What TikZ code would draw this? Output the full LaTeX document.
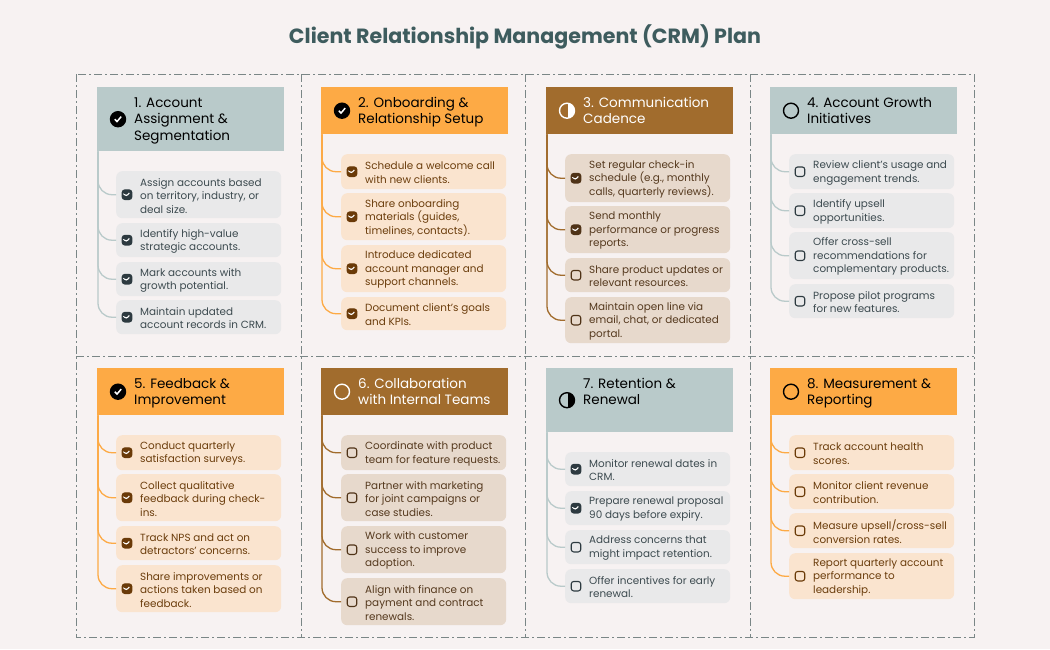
\documentclass[tikz,border=0pt]{standalone}
\usepackage{fontspec}
\setmainfont{Poppins}
\definecolor{pagebg}{HTML}{F7F2F2}
\definecolor{titlecol}{HTML}{3E5C5E}
\definecolor{gridcol}{HTML}{7A8686}
\tikzset{
	crmgray/.code={\definecolor{hdfill}{HTML}{B9CACA}\definecolor{itfill}{HTML}{E9E9EA}\definecolor{ittext}{HTML}{3C4A4F}\definecolor{ckcol}{HTML}{2D3A40}\definecolor{hdtext}{HTML}{000000}},
	crmorange/.code={\definecolor{hdfill}{HTML}{FDAA45}\definecolor{itfill}{HTML}{FAE4CF}\definecolor{ittext}{HTML}{6B3D0C}\definecolor{ckcol}{HTML}{6A3A08}\definecolor{hdtext}{HTML}{000000}},
	crmbrown/.code={\definecolor{hdfill}{HTML}{A16C2D}\definecolor{itfill}{HTML}{E7D9CC}\definecolor{ittext}{HTML}{55391E}\definecolor{ckcol}{HTML}{4F3317}\definecolor{hdtext}{HTML}{FFFFFF}},
	hdbox/.style={fill=hdfill,anchor=north west,minimum width=187pt,inner sep=0pt},
	hdlabel/.style={anchor=north west,align=left,inner sep=0pt,text=hdtext,font=\fontsize{13.5}{16.5}\selectfont},
	itbox/.style={fill=itfill,rounded corners=6pt,anchor=north west,minimum width=165pt,inner sep=0pt},
	itlabel/.style={anchor=west,align=left,inner sep=0pt,text=ittext,font=\fontsize{10.4}{13.5}\selectfont},
	branch/.style={draw=hdfill,line width=1.3pt,rounded corners=14pt},
	gridline/.style={gridcol,line width=0.9pt,dash pattern=on 8pt off 3pt on 2pt off 3pt},
	% Symbole im Kopf
	hdicon/.style={circle,draw=hdtext,line width=1.4pt,minimum size=15pt,inner sep=0pt},
	hddone/.style={hdicon,draw=black,fill=black,path picture={\draw[white,line width=1.5pt]
		([shift={(-3.2pt,0pt)}]path picture bounding box.center) -- ++(2.2,2.4) -- ++(4.2,-5);}},
	hdhalf/.style={hdicon,path picture={\fill[hdtext] ([xshift=0.6pt]path picture bounding box.north) rectangle (path picture bounding box.south east);}},
	hdopen/.style={hdicon},
	% Kaestchen in den Feldern
	itcheck/.style={rectangle,rounded corners=2.5pt,draw=ckcol,line width=1.1pt,minimum size=9.5pt,inner sep=0pt},
	itdone/.style={itcheck,fill=ckcol,path picture={\draw[white,line width=1.1pt]
		([shift={(-2.4pt,0pt)}]path picture bounding box.center) -- ++(1.7,1.8) -- ++(3,-3.6);}},
	itopen/.style={itcheck},
}
% Kopf: Nummer, x, y, Hoehe, Symbol, Text
\newcommand{\crmhead}[6]{
	\node[hdbox,minimum height=#4pt] (hd#1) at (#2,#3) {};
	\node[hd#5] (ic#1) at ([xshift=21pt]hd#1.west) {};
	\node[hdlabel] (lb#1) at ([shift={(37pt,-8pt)}]hd#1.north west) {\rule{0pt}{12pt}#6};
}
% Feld: Kopfnummer, Zeichen, x, y, Hoehe, Kaestchen, Text
\newcommand{\crmitem}[7]{
	\node[itbox,minimum height=#5pt] (it#1#2) at (#3,#4) {};
	\node[it#6] (ck#1#2) at ([xshift=11pt]it#1#2.west) {};
	\node[itlabel] (tx#1#2) at ([shift={(24pt,-1pt)}]it#1#2.west) {#7};
	\draw[branch] ([xshift=1pt]hd#1.south west) |- (it#1#2.west);
}
\begin{document}
\begin{tikzpicture}[x=1pt,y=-1pt]
	\path[use as bounding box,fill=pagebg] (0,0) rectangle (1050,649);
	
	% Titel
	\node[text=titlecol,inner sep=0pt,font=\fontsize{20.6}{25}\selectfont\bfseries] (title) at (525,37) {Client Relationship Management (CRM) Plan};
	
	% Gitter
	\draw[gridline] (76,74) rectangle (974,637);
	\foreach \x in {301,525,750} {
		\draw[gridline] (\x,74) -- (\x,637);
	}
	\draw[gridline] (76,356) -- (974,356);
	
	% Feld 1
	\begin{scope}[crmgray]
		\crmhead{1}{97}{87}{64}{done}{1. Account\\Assignment \&\\Segmentation}
		\crmitem{1}{a}{116}{171}{47}{done}{Assign accounts based\\on territory, industry, or\\deal size.}
		\crmitem{1}{b}{116}{223}{34}{done}{Identify high-value\\strategic accounts.}
		\crmitem{1}{c}{116}{262}{34}{done}{Mark accounts with\\growth potential.}
		\crmitem{1}{d}{116}{300}{34}{done}{Maintain updated\\account records in CRM.}
	\end{scope}
	
	% Feld 2
	\begin{scope}[crmorange]
		\crmhead{2}{321}{87}{47}{done}{2. Onboarding \&\\Relationship Setup}
		\crmitem{2}{a}{341}{154}{35}{done}{Schedule a welcome call\\with new clients.}
		\crmitem{2}{b}{341}{193}{47}{done}{Share onboarding\\materials (guides,\\timelines, contacts).}
		\crmitem{2}{c}{341}{245}{47}{done}{Introduce dedicated\\account manager and\\support channels.}
		\crmitem{2}{d}{341}{297}{33}{done}{Document client’s goals\\and KPIs.}
	\end{scope}
	
	% Feld 3
	\begin{scope}[crmbrown]
		\crmhead{3}{546}{87}{47}{half}{3. Communication\\Cadence}
		\crmitem{3}{a}{565}{154}{48}{done}{Set regular check-in\\schedule (e.g., monthly\\calls, quarterly reviews).}
		\crmitem{3}{b}{565}{206}{47}{done}{Send monthly\\performance or progress\\reports.}
		\crmitem{3}{c}{565}{258}{34}{open}{Share product updates or\\relevant resources.}
		\crmitem{3}{d}{565}{297}{46}{open}{Maintain open line via\\email, chat, or dedicated\\portal.}
	\end{scope}
	
	% Feld 4
	\begin{scope}[crmgray]
		\crmhead{4}{770}{87}{47}{open}{4. Account Growth\\Initiatives}
		\crmitem{4}{a}{789}{154}{35}{open}{Review client’s usage and\\engagement trends.}
		\crmitem{4}{b}{789}{193}{35}{open}{Identify upsell\\opportunities.}
		\crmitem{4}{c}{789}{232}{47}{open}{Offer cross-sell\\recommendations for\\complementary products.}
		\crmitem{4}{d}{789}{284}{34}{open}{Propose pilot programs\\for new features.}
	\end{scope}
	
	% Feld 5
	\begin{scope}[crmorange]
		\crmhead{5}{97}{368}{47}{done}{5. Feedback \&\\Improvement}
		\crmitem{5}{a}{116}{435}{35}{done}{Conduct quarterly\\satisfaction surveys.}
		\crmitem{5}{b}{116}{474}{47}{done}{Collect qualitative\\feedback during check-\\ins.}
		\crmitem{5}{c}{116}{526}{34}{done}{Track NPS and act on\\detractors’ concerns.}
		\crmitem{5}{d}{116}{565}{47}{done}{Share improvements or\\actions taken based on\\feedback.}
	\end{scope}
	
	% Feld 6
	\begin{scope}[crmbrown]
		\crmhead{6}{321}{368}{47}{open}{6. Collaboration\\with Internal Teams}
		\crmitem{6}{a}{341}{435}{35}{open}{Coordinate with product\\team for feature requests.}
		\crmitem{6}{b}{341}{474}{47}{open}{Partner with marketing\\for joint campaigns or\\case studies.}
		\crmitem{6}{c}{341}{526}{47}{open}{Work with customer\\success to improve\\adoption.}
		\crmitem{6}{d}{341}{578}{47}{open}{Align with finance on\\payment and contract\\renewals.}
	\end{scope}
	
	% Feld 7
	\begin{scope}[crmgray]
		\crmhead{7}{546}{368}{64}{half}{7. Retention \&\\Renewal}
		\crmitem{7}{a}{565}{452}{34}{done}{Monitor renewal dates in\\CRM.}
		\crmitem{7}{b}{565}{491}{34}{done}{Prepare renewal proposal\\90 days before expiry.}
		\crmitem{7}{c}{565}{530}{34}{open}{Address concerns that\\might impact retention.}
		\crmitem{7}{d}{565}{569}{34}{open}{Offer incentives for early\\renewal.}
	\end{scope}
	
	% Feld 8
	\begin{scope}[crmorange]
		\crmhead{8}{770}{368}{47}{open}{8. Measurement \&\\Reporting}
		\crmitem{8}{a}{789}{435}{35}{open}{Track account health\\scores.}
		\crmitem{8}{b}{789}{474}{35}{open}{Monitor client revenue\\contribution.}
		\crmitem{8}{c}{789}{513}{35}{open}{Measure upsell/cross-sell\\conversion rates.}
		\crmitem{8}{d}{789}{553}{46}{open}{Report quarterly account\\performance to\\leadership.}
	\end{scope}
\end{tikzpicture}
\end{document}
